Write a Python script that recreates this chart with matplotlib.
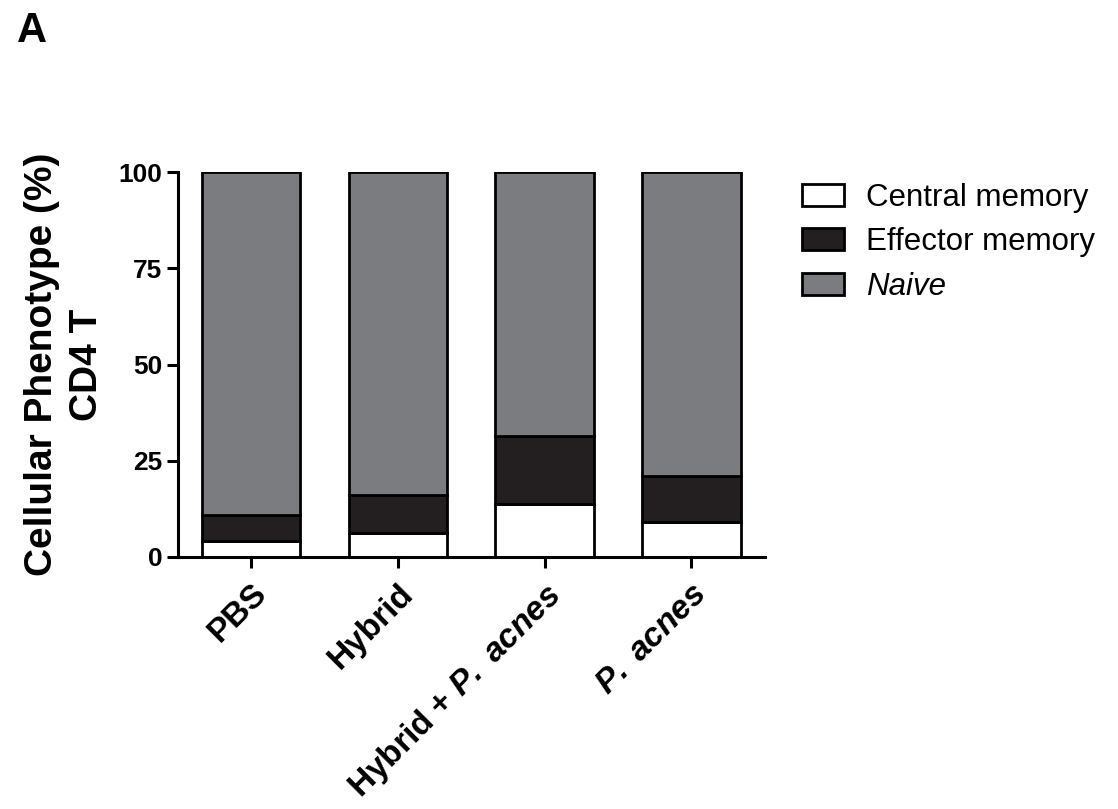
import matplotlib.pyplot as plt
from matplotlib.patches import Patch

plt.rcParams['font.family'] = ['Liberation Sans', 'DejaVu Sans']
plt.rcParams['mathtext.fontset'] = 'custom'
plt.rcParams['mathtext.bfit'] = 'Liberation Sans:bold:italic'
plt.rcParams['mathtext.it'] = 'Liberation Sans:italic'

groups = ['PBS', 'Hybrid', 'Hybrid + $\\mathbfit{P.\\ acnes}$', '$\\mathbfit{P.\\ acnes}$']
central = [4.2, 6.2, 13.9, 9.2]
effector = [6.8, 10.0, 17.5, 11.8]
naive = [89.0, 83.8, 68.6, 79.0]

c_central = 'white'
c_effector = '#231f20'
c_naive = '#7b7c80'

fig = plt.figure(figsize=(11.18, 8.09), dpi=100)
ax = fig.add_axes([0.159, 0.3115, 0.525, 0.4755])

x = range(len(groups))
w = 0.67
lw = 2.0
ax.bar(x, central, w, color=c_central, edgecolor='black', linewidth=lw)
ax.bar(x, effector, w, bottom=central, color=c_effector, edgecolor='black', linewidth=lw)
bottom3 = [a + b for a, b in zip(central, effector)]
ax.bar(x, naive, w, bottom=bottom3, color=c_naive, edgecolor='black', linewidth=lw)

ax.set_xlim(-0.5, 3.5)
ax.set_ylim(0, 100)
ax.set_yticks([0, 25, 50, 75, 100])
ax.set_xticks(list(x))
ax.set_xticklabels(groups)

for s in ['top', 'right']:
    ax.spines[s].set_visible(False)
for s in ['left', 'bottom']:
    ax.spines[s].set_linewidth(2.2)
ax.tick_params(axis='both', width=2.2, length=8, pad=3)
ax.tick_params(axis='x', pad=7)

for lab in ax.get_xticklabels():
    lab.set_fontsize(24)
    lab.set_fontweight('bold')
    lab.set_rotation(45)
    lab.set_ha('right')
    lab.set_rotation_mode('anchor')
for lab in ax.get_yticklabels():
    lab.set_fontsize(19)
    lab.set_fontweight('bold')

ax.set_ylabel('Cellular Phenotype (%)\nCD4 T', fontsize=28, fontweight='bold',
              linespacing=1.3, labelpad=10)

handles = [Patch(facecolor=c_central, edgecolor='black', linewidth=2),
           Patch(facecolor=c_effector, edgecolor='black', linewidth=2),
           Patch(facecolor=c_naive, edgecolor='black', linewidth=2)]
leg = fig.legend(handles, ['Central memory', 'Effector memory', 'Naive'],
                 loc='upper left', bbox_to_anchor=(0.692, 0.809), frameon=False,
                 fontsize=22.5, handlelength=1.34, handleheight=0.7,
                 labelspacing=0.47, handletextpad=0.72)
leg.get_texts()[2].set_fontstyle('italic')

fig.text(0.015, 0.948, 'A', fontsize=30, fontweight='bold')

fig.savefig('out.png', dpi=100)
